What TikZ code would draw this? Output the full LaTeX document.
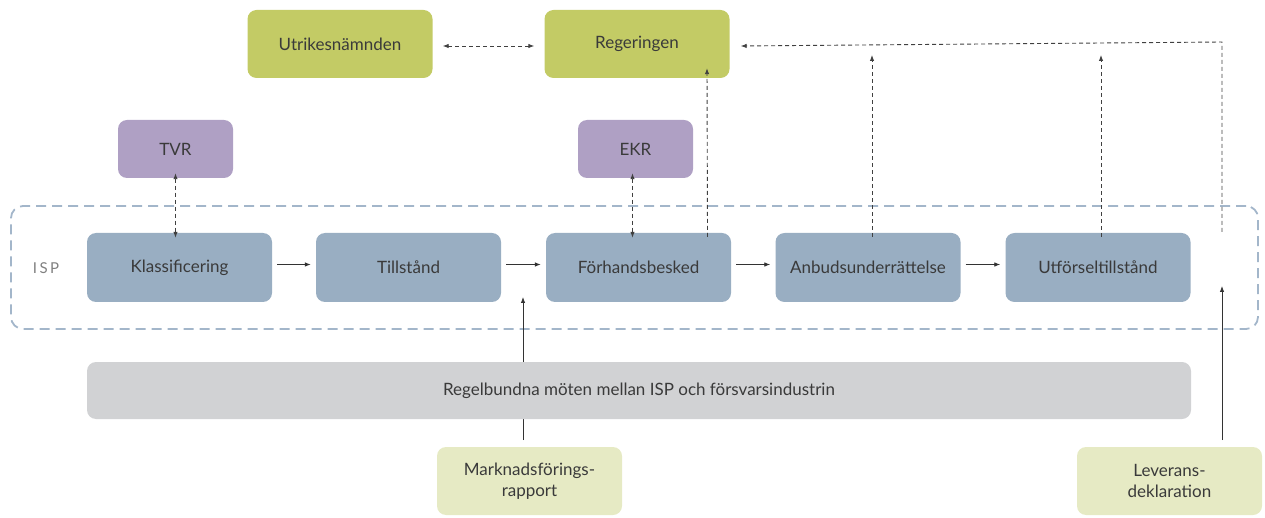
\documentclass[tikz,border=0pt]{standalone}
\usepackage{fontspec}
\setmainfont{Lato}
\usetikzlibrary{arrows.meta}
\definecolor{grn}{HTML}{C3CB65}
\definecolor{prp}{HTML}{AFA0C4}
\definecolor{blu}{HTML}{99AEC2}
\definecolor{gry}{HTML}{D1D2D4}
\definecolor{lgr}{HTML}{E6EAC4}
\definecolor{txt}{HTML}{3A3A3A}
\definecolor{cont}{HTML}{A3B6CA}
\begin{document}
\begin{tikzpicture}[x=1pt,y=-1pt,
  box/.style={rounded corners=9pt,minimum width=185pt,minimum height=68pt,inner sep=0pt,text=txt,font=\fontsize{17}{21}\selectfont,align=center},
  gbox/.style={box,fill=grn},
  pbox/.style={box,fill=prp,minimum width=115pt,minimum height=58pt},
  bbox/.style={box,fill=blu,minimum height=69pt},
  lbox/.style={box,fill=lgr},
  dar/.style={dash pattern=on 4pt off 3pt,line width=0.9pt,draw=black!75,-{Latex[length=6pt,width=4.5pt]}},
  ddar/.style={dar,{Latex[length=6pt,width=4.5pt]}-{Latex[length=6pt,width=4.5pt]}},
  sar/.style={line width=0.8pt,draw=black!80,-{Latex[length=6pt,width=4.5pt]}}
]
\useasboundingbox (0,0) rectangle (1265,518);
% container
\node[draw=cont,line width=1.8pt,dash pattern=on 10pt off 6pt,rounded corners=12pt,minimum width=1247pt,minimum height=123pt,inner sep=0pt] (isp) at (634.5,267.5) {};
\node[text=black!50,font=\fontsize{15}{18}\selectfont] (isplbl) at (46,268) {I\,S\,P};
% top
\node[gbox] (ut) at (340,44) {Utrikesnämnden};
\node[gbox] (reg) at (637,44) {Regeringen};
\node[pbox] (tvr) at (175.5,149) {TVR};
\node[pbox] (ekr) at (635.5,149) {EKR};
% process
\node[bbox] (kl) at (179.5,267.5) {Klassificering};
\node[bbox] (ti) at (408.5,267.5) {Tillstånd};
\node[bbox] (fo) at (638.5,267.5) {Förhandsbesked};
\node[bbox] (an) at (868,267.5) {Anbudsunderrättelse};
\node[bbox] (uf) at (1098,267.5) {Utförseltillstånd};
% bottom boxes
\node[lbox] (mf) at (529.5,481) {Marknadsförings-\\rapport};
\node[lbox] (lv) at (1169.5,481) {Leverans-\\deklaration};
% coordinates
\coordinate (c1) at (1222,232);
\coordinate (c2) at (1222,42);
\coordinate (mfs) at (523,440);
\coordinate (mfe) at (523,297);
\coordinate (lvs) at (1222,440);
\coordinate (lve) at (1222,286);
% arrows
\draw[ddar] ([xshift=10pt,yshift=-2pt]ut.east) -- ([xshift=-10pt,yshift=-2pt]reg.west);
\draw[dar] (c1) -- (c2) -- ([xshift=11pt,yshift=-2pt]reg.east);
\draw[dar] ([xshift=69pt,yshift=-4pt]fo.north) -- ([xshift=70pt,yshift=10pt]reg.south);
\draw[dar] ([yshift=-4pt,xshift=4pt]an.north) -- ([xshift=4pt]an.north |- 0,55);
\draw[dar] ([yshift=-4pt,xshift=3pt]uf.north) -- ([xshift=3pt]uf.north |- 0,55);
\draw[ddar] ([yshift=5pt]tvr.south) -- ([yshift=-5pt,xshift=-4pt]kl.north);
\draw[ddar] ([yshift=5pt,xshift=-3pt]ekr.south) -- ([yshift=-5pt,xshift=-6pt]fo.north);
\draw[sar] ([xshift=5pt,yshift=3pt]kl.east) -- ([xshift=-5pt,yshift=3pt]ti.west);
\draw[sar] ([xshift=5pt,yshift=3pt]ti.east) -- ([xshift=-5pt,yshift=3pt]fo.west);
\draw[sar] ([xshift=5pt,yshift=3pt]fo.east) -- ([xshift=-5pt,yshift=3pt]an.west);
\draw[sar] ([xshift=5pt,yshift=3pt]an.east) -- ([xshift=-5pt,yshift=3pt]uf.west);
\draw[sar] (mfs) -- (mfe);
\draw[sar] (lvs) -- (lve);
% gray box drawn over the line
\node[box,fill=gry,minimum width=1104pt,minimum height=57pt] (rm) at (639,390.5) {Regelbundna möten mellan ISP och försvarsindustrin};
\end{tikzpicture}
\end{document}
